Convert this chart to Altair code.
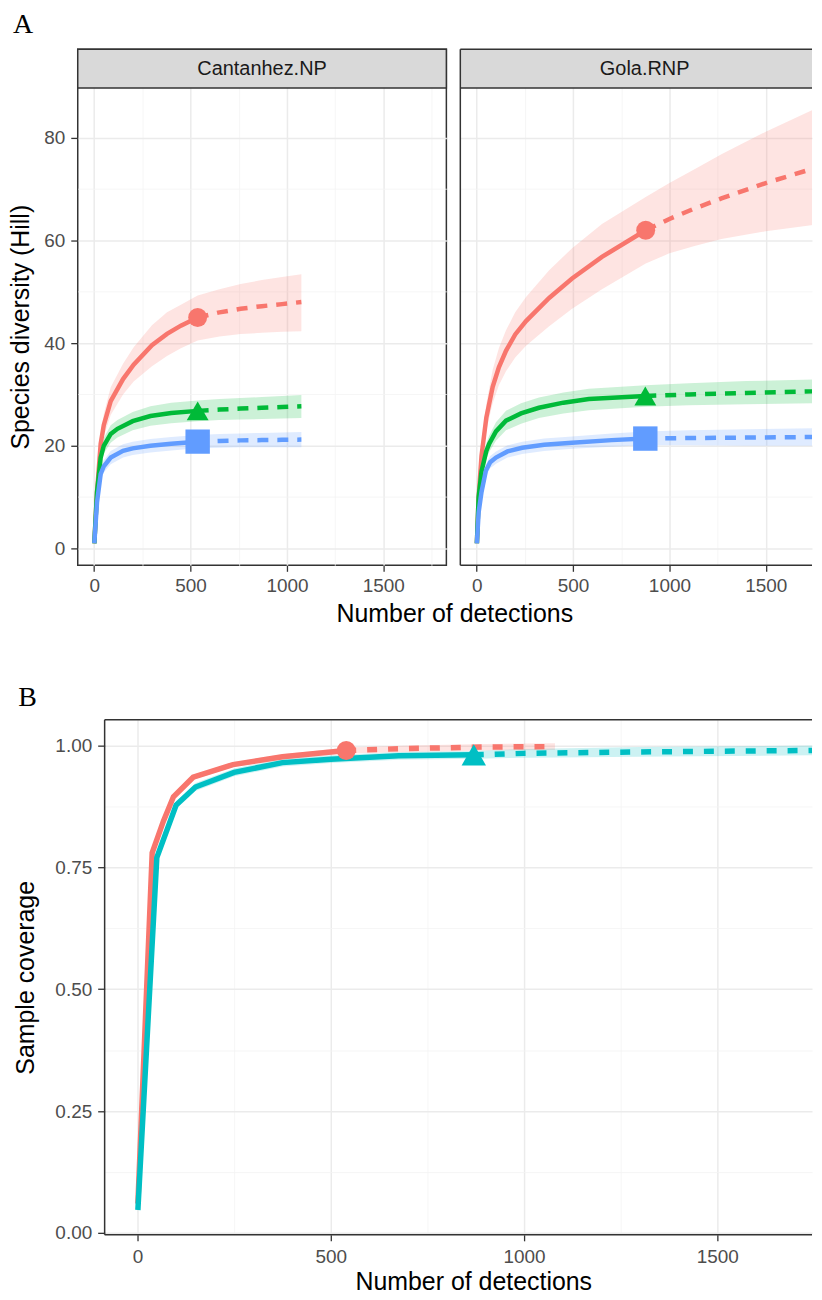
import altair as alt
import pandas as pd

# ---------------- data ----------------
ORDERS = ["q0", "q1", "q2"]
COLORS_A = ["#F8766D", "#00BA38", "#619CFF"]
SITES = ["Cantanhez.NP", "Gola.RNP"]
COLORS_B = ["#F8766D", "#00BFC4"]

# Panel A, Cantanhez.NP
can_q0_ix = [1, 15, 34, 50, 86, 150, 205, 300, 378, 450, 537]
can_q0_iy = [1, 11, 20.4, 24, 28.7, 33, 35.8, 39.6, 41.8, 43.4, 45]
can_q0_ex = [537, 650, 760, 870, 975, 1075]
can_q0_ey = [45, 46, 46.7, 47.2, 47.6, 48.0]
can_q0_lo = [1, 10, 18.5, 21.8, 26, 30, 32.5, 35.5, 37.5, 39, 40.5, 41.3, 41.8, 42, 42.2, 42.3]
can_q0_hi = [1, 12, 22.3, 26.2, 31.4, 36, 39.2, 43.5, 46, 47.5, 49.3, 50.5, 51.5, 52.3, 52.9, 53.4]

can_q1_ix = [1, 15, 34, 50, 86, 121, 200, 292, 400, 537]
can_q1_iy = [1, 11, 17.7, 20, 22.3, 23.3, 24.8, 25.8, 26.4, 26.8]
can_q1_ex = [537, 650, 760, 870, 975, 1075]
can_q1_ey = [26.8, 27.05, 27.25, 27.4, 27.55, 27.7]
can_q1_lo = [1, 10, 16.3, 18.5, 20.6, 21.6, 23, 23.9, 24.4, 24.8, 25, 25.1, 25.2, 25.3, 25.4]
can_q1_hi = [1, 12, 19.1, 21.5, 24, 25, 26.6, 27.7, 28.4, 28.8, 29.1, 29.3, 29.5, 29.7, 29.9]

can_q2_ix = [1, 15, 34, 50, 86, 150, 200, 292, 400, 537]
can_q2_iy = [1, 9, 14.5, 16, 17.7, 19.0, 19.5, 20.0, 20.4, 20.8]
can_q2_ex = [537, 650, 760, 870, 975, 1075]
can_q2_ey = [20.8, 20.95, 21.05, 21.1, 21.15, 21.2]
can_q2_lo = [1, 8.2, 13.4, 14.8, 16.4, 17.7, 18.2, 18.7, 19.1, 19.5, 19.6, 19.7, 19.7, 19.7, 19.7]
can_q2_hi = [1, 9.8, 15.6, 17.2, 19, 20.3, 20.8, 21.3, 21.7, 22.1, 22.3, 22.4, 22.5, 22.6, 22.7]

# Panel A, Gola.RNP
gol_q0_ix = [1, 10, 25, 50, 83, 115, 152, 200, 256, 376, 495, 650, 877]
gol_q0_iy = [1, 10, 18, 25.5, 31.5, 35.3, 38.5, 41.7, 44.3, 48.8, 52.6, 56.8, 62]
gol_q0_ex = [877, 1000, 1135, 1270, 1500, 1745]
gol_q0_ey = [62, 64.2, 66.3, 68.2, 71.2, 74]
gol_q0_lo = [1, 9, 16, 23, 28.3, 31.8, 34.5, 37.2, 39.5, 43.3, 46.7, 50.5, 55.5, 57.5, 59, 60.3, 61.8, 63]
gol_q0_hi = [1, 11, 20, 28.2, 34.8, 39, 42.5, 46, 49, 54.2, 58.5, 63.2, 68.5, 71.2, 74, 76.8, 81.2, 85.5]

gol_q1_ix = [1, 10, 25, 50, 65, 100, 152, 230, 323, 450, 582, 875]
gol_q1_iy = [1, 10, 15, 19, 20.4, 22.8, 24.9, 26.3, 27.4, 28.4, 29.1, 29.7]
gol_q1_ex = [875, 1100, 1400, 1745]
gol_q1_ey = [29.7, 30.0, 30.3, 30.6]
gol_q1_lo = [1, 9, 13.8, 17.5, 18.8, 21, 23, 24.3, 25.4, 26.3, 26.9, 27.6, 27.9, 28.1, 28.3]
gol_q1_hi = [1, 11, 16.2, 20.5, 22, 24.6, 26.8, 28.3, 29.4, 30.4, 31.1, 31.8, 32.2, 32.6, 32.9]

gol_q2_ix = [1, 10, 25, 48, 70, 100, 160, 236, 350, 495, 700, 875]
gol_q2_iy = [1, 7, 11, 15.2, 16.8, 17.7, 18.9, 19.6, 20.2, 20.6, 21.1, 21.4]
gol_q2_ex = [875, 1100, 1400, 1745]
gol_q2_ey = [21.4, 21.5, 21.6, 21.7]
gol_q2_lo = [1, 6.3, 10, 14, 15.6, 16.5, 17.7, 18.4, 19, 19.4, 19.8, 20.1, 20.1, 20.0, 20.0]
gol_q2_hi = [1, 7.7, 12, 16.4, 18, 18.9, 20.1, 20.8, 21.4, 21.8, 22.4, 22.8, 23.0, 23.2, 23.4]

# Panel B, sample coverage
cov_can_ix = [1, 38, 67, 93, 144, 247, 375, 540]
cov_can_iy = [0.06, 0.78, 0.845, 0.895, 0.935, 0.961, 0.977, 0.99]
cov_can_ex = [540, 700, 900, 1080]
cov_can_ey = [0.99, 0.994, 0.997, 0.998]
cov_can_lo = [0.05, 0.77, 0.838, 0.889, 0.93, 0.956, 0.972, 0.984, 0.987, 0.99, 0.991]
cov_can_hi = [0.07, 0.79, 0.852, 0.901, 0.94, 0.966, 0.982, 0.996, 1.0, 1.003, 1.005]

cov_gol_ix = [1, 50, 100, 150, 250, 375, 500, 676, 870]
cov_gol_iy = [0.047, 0.77, 0.878, 0.915, 0.945, 0.965, 0.972, 0.979, 0.981]
cov_gol_ex = [870, 1000, 1300, 1745]
cov_gol_ey = [0.981, 0.984, 0.987, 0.99]
cov_gol_lo = [0.04, 0.76, 0.87, 0.907, 0.937, 0.957, 0.964, 0.971, 0.973, 0.975, 0.977, 0.98]
cov_gol_hi = [0.054, 0.78, 0.886, 0.923, 0.953, 0.973, 0.98, 0.987, 0.989, 0.993, 0.997, 1.0]


def frames(key, series, ix, iy, ex, ey, lo, hi):
    interp = pd.DataFrame({key: series, "x": ix, "y": iy})
    extrap = pd.DataFrame({key: series, "x": ex, "y": ey})
    bx = list(ix) + list(ex[1:])
    band = pd.DataFrame({key: series, "x": bx, "lo": lo, "hi": hi})
    marker = pd.DataFrame({key: series, "x": [ix[-1]], "y": [iy[-1]]})
    return interp, extrap, band, marker


def collect(parts):
    return [pd.concat([p[i] for p in parts], ignore_index=True) for i in range(4)]


A_can = collect([
    frames("series", "q0", can_q0_ix, can_q0_iy, can_q0_ex, can_q0_ey, can_q0_lo, can_q0_hi),
    frames("series", "q1", can_q1_ix, can_q1_iy, can_q1_ex, can_q1_ey, can_q1_lo, can_q1_hi),
    frames("series", "q2", can_q2_ix, can_q2_iy, can_q2_ex, can_q2_ey, can_q2_lo, can_q2_hi),
])
A_gol = collect([
    frames("series", "q0", gol_q0_ix, gol_q0_iy, gol_q0_ex, gol_q0_ey, gol_q0_lo, gol_q0_hi),
    frames("series", "q1", gol_q1_ix, gol_q1_iy, gol_q1_ex, gol_q1_ey, gol_q1_lo, gol_q1_hi),
    frames("series", "q2", gol_q2_ix, gol_q2_iy, gol_q2_ex, gol_q2_ey, gol_q2_lo, gol_q2_hi),
])
B_all = collect([
    frames("site", "Cantanhez.NP", cov_can_ix, cov_can_iy, cov_can_ex, cov_can_ey, cov_can_lo, cov_can_hi),
    frames("site", "Gola.RNP", cov_gol_ix, cov_gol_iy, cov_gol_ex, cov_gol_ey, cov_gol_lo, cov_gol_hi),
])


def cond(test, a, b):
    return {"condition": {"test": test, "value": a}, "value": b}


FONT = "Liberation Sans"
SERIF = "Liberation Serif"
MAJ_X = "datum.value % 500 === 0"
STRIP_H = 39
PLOT_H = 479
FRAME = "#333333"
ONE = pd.DataFrame({"k": [0]})


def edge(x, x2=None, y=None, y2=None):
    enc = {"x": alt.value(x), "y": alt.value(y)}
    if x2 is not None:
        enc["x2"] = alt.value(x2)
    if y2 is not None:
        enc["y2"] = alt.value(y2)
    return alt.Chart(ONE).mark_rule(color=FRAME, strokeWidth=1.5).encode(**enc)


def open_frame(width, height, strip_h=None):
    """Frame lines (top, left, bottom) for a panel whose right side runs off the page."""
    layers = [edge(0, width, 0), edge(0, None, 0, height), edge(0, width, height)]
    if strip_h is not None:
        layers.append(edge(0, width, strip_h))
    return layers


def x_axis(values, title=None, titleX=None, titlePadding=6, labelPadding=5):
    kw = dict(
        values=values, format="d",
        labelExpr=f"{MAJ_X} ? datum.label : ''",
        labelOverlap=False, labelFlush=False, labelPadding=labelPadding,
        tickSize=6, tickOpacity=cond(MAJ_X, 1, 0),
        gridColor=cond(MAJ_X, "#EBEBEB", "#F4F4F4"),
        gridWidth=cond(MAJ_X, 1.5, 0.8),
        domain=False,
    )
    if title is not None:
        kw.update(title=title, titleX=titleX, titlePadding=titlePadding)
    else:
        kw.update(title=None)
    return alt.Axis(**kw)


def y_axis_A(show):
    test = "datum.value % 20 === 0"
    kw = dict(values=[0, 10, 20, 30, 40, 50, 60, 70, 80],
              gridColor=cond(test, "#EBEBEB", "#F4F4F4"),
              gridWidth=cond(test, 1.5, 0.8), domain=False)
    if show:
        kw.update(labelExpr=f"{test} ? datum.label : ''", labelOverlap=False,
                  tickSize=7, labelPadding=6, tickOpacity=cond(test, 1, 0),
                  title="Species diversity (Hill)", titlePadding=10,
                  titleY=STRIP_H + PLOT_H / 2)
    else:
        kw.update(labels=False, ticks=False, title=None)
    return alt.Axis(**kw)


def plot_A(d, label, width, xdom, left):
    interp, extrap, band, marker = d
    H = STRIP_H + PLOT_H
    xs = alt.Scale(domain=xdom, nice=False, zero=False)
    # upper part of the domain is covered by the facet strip
    ys = alt.Scale(domain=[-3.3, 97.27], nice=False, zero=False)
    if left:
        xa = x_axis([0, 250, 500, 750, 1000, 1250, 1500, 1750], "Number of detections", 378, 6, 5)
    else:
        xa = x_axis([0, 250, 500, 750, 1000, 1250, 1500])
    ya = y_axis_A(left)
    col = alt.Color("series:N", scale=alt.Scale(domain=ORDERS, range=COLORS_A), legend=None)
    X = alt.X("x:Q", scale=xs, axis=xa)
    b = alt.Chart(band).mark_area(opacity=0.2, clip=True).encode(
        x=X, y=alt.Y("lo:Q", scale=ys, axis=ya), y2="hi:Q", color=col)
    li = alt.Chart(interp).mark_line(strokeWidth=4.5, clip=True).encode(
        x=X, y=alt.Y("y:Q", scale=ys, axis=ya), color=col)
    le = alt.Chart(extrap).mark_line(strokeWidth=4.5, strokeDash=[11, 9], clip=True).encode(
        x=X, y=alt.Y("y:Q", scale=ys, axis=ya), color=col)
    pt = alt.Chart(marker).mark_point(filled=True, opacity=1, clip=True).encode(
        x=X, y=alt.Y("y:Q", scale=ys, axis=ya), color=col,
        shape=alt.Shape("series:N", scale=alt.Scale(domain=ORDERS, range=["circle", "triangle-up", "square"]), legend=None),
        size=alt.Size("series:N", scale=alt.Scale(domain=ORDERS, range=[361, 600, 361]), legend=None))
    lab = pd.DataFrame({"label": [label]})
    if left:
        sbox = alt.Chart(lab).mark_rect(fill="#D9D9D9", stroke=FRAME, strokeWidth=1.5).encode(
            x=alt.value(0), x2=alt.value(width), y=alt.value(0), y2=alt.value(STRIP_H))
    else:
        sbox = alt.Chart(lab).mark_rect(fill="#D9D9D9").encode(
            x=alt.value(0), x2=alt.value(width), y=alt.value(0), y2=alt.value(STRIP_H))
    stxt = alt.Chart(lab).mark_text(font=FONT, fontSize=20, color="#1A1A1A").encode(
        text="label:N", x=alt.value(185), y=alt.value(20))
    layers = [b, li, le, pt, sbox, stxt]
    props = dict(width=width, height=H)
    if not left:
        layers += open_frame(width, H, STRIP_H)
        props["view"] = alt.ViewBackground(stroke="transparent")
    return alt.layer(*layers).properties(**props)


plotL = plot_A(A_can, SITES[0], 370, [-85, 1827], True)
plotR = plot_A(A_gol, SITES[1], 353, [-85, 1740], False)
blockA = alt.hconcat(plotL, plotR, spacing=14, bounds="flush",
                     title=alt.TitleParams("A", anchor="start", font=SERIF, fontSize=28,
                                           fontWeight="normal", color="#000000", offset=9, dx=5))

# Panel B
interpB, extrapB, bandB, markerB = B_all
WB, HB = 710, 517
xsB = alt.Scale(domain=[-85, 1745], nice=False, zero=False)
ysB = alt.Scale(domain=[-0.004, 1.053], nice=False, zero=False)
testB = "round(datum.value * 1000) % 250 === 0"
yaB = alt.Axis(values=[0, 0.125, 0.25, 0.375, 0.5, 0.625, 0.75, 0.875, 1.0], format=".2f",
               labelExpr=f"{testB} ? datum.label : ''", labelOverlap=False,
               tickSize=7, labelPadding=6, tickOpacity=cond(testB, 1, 0),
               gridColor=cond(testB, "#EBEBEB", "#F4F4F4"), gridWidth=cond(testB, 1.5, 0.8),
               domain=False, title="Sample coverage", titlePadding=16)
xaB = x_axis([0, 250, 500, 750, 1000, 1250, 1500], "Number of detections", 370, 3, 7)
colB = alt.Color("site:N", scale=alt.Scale(domain=SITES, range=COLORS_B), legend=None)
XB = alt.X("x:Q", scale=xsB, axis=xaB)
bB = alt.Chart(bandB).mark_area(opacity=0.2, clip=True).encode(
    x=XB, y=alt.Y("lo:Q", scale=ysB, axis=yaB), y2="hi:Q", color=colB)
liB = alt.Chart(interpB).mark_line(strokeWidth=5.5, clip=True).encode(
    x=XB, y=alt.Y("y:Q", scale=ysB, axis=yaB), color=colB)
leB = alt.Chart(extrapB).mark_line(strokeWidth=5.5, strokeDash=[10, 11], clip=True).encode(
    x=XB, y=alt.Y("y:Q", scale=ysB, axis=yaB), color=colB)
ptB = alt.Chart(markerB).mark_point(filled=True, opacity=1, clip=True).encode(
    x=XB, y=alt.Y("y:Q", scale=ysB, axis=yaB), color=colB,
    shape=alt.Shape("site:N", scale=alt.Scale(domain=SITES, range=["circle", "triangle-up"]), legend=None),
    size=alt.Size("site:N", scale=alt.Scale(domain=SITES, range=[361, 600]), legend=None))
plotB = alt.layer(bB, liB, leB, ptB, *open_frame(WB, HB)).properties(
    width=WB, height=HB, view=alt.ViewBackground(stroke="transparent"))

# invisible spacer so that panel B's frame starts to the right of panel A's
spacer = alt.Chart(ONE).mark_point(opacity=0).encode(
    x=alt.value(0), y=alt.value(0)).properties(
    width=1, height=1, view=alt.ViewBackground(stroke="transparent", fill="transparent"))
blockB = alt.hconcat(spacer, plotB, spacing=26, bounds="flush",
                     title=alt.TitleParams("B", anchor="start", font=SERIF, fontSize=28,
                                           fontWeight="normal", color="#000000", offset=4, dx=5))

chart = alt.vconcat(blockA, blockB, spacing=57).properties(padding=0).resolve_scale(
    color="independent", shape="independent", size="independent"
).configure_axis(
    labelFont=FONT, labelFontSize=19, labelColor="#4D4D4D",
    titleFont=FONT, titleFontSize=25, titleFontWeight="normal", titleColor="#000000",
    tickColor="#333333", tickWidth=1.3,
).configure_view(stroke=FRAME, strokeWidth=1.5)

chart.save("out.html", embed_options={"renderer": "svg", "actions": False})
